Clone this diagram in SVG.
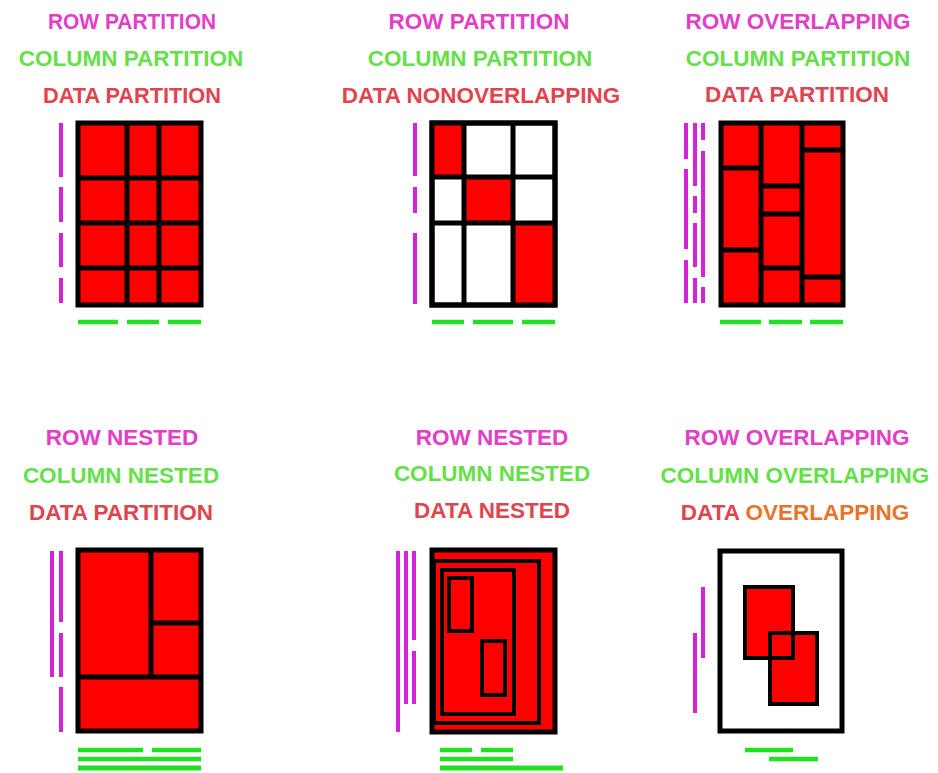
<svg xmlns="http://www.w3.org/2000/svg" width="938" height="773" viewBox="0 0 938 773">
<style>
text{font-family:"Liberation Sans",Arial,sans-serif;font-weight:bold;font-size:22.5px;text-anchor:middle}
.tr{fill:#e23fc4}
.tc{fill:#66e04a}
.td{fill:#e0444e}
.to{fill:#e8742c}
.box{fill:#ff0000;stroke:#000;stroke-width:5}
.wbox{fill:#fff;stroke:#000;stroke-width:5}
.ln{stroke:#000;stroke-width:5;fill:none}
.in{fill:#ff0000;stroke:#000;stroke-width:4}
.nl{fill:none;stroke:#000;stroke-width:4}
.red{fill:#ff0000}
.pk{stroke:#d522d8;stroke-width:4;fill:none}
.gr{stroke:#22e022;stroke-width:4.5;fill:none}
.gr5{stroke:#22e022;stroke-width:5;fill:none}
</style>
<rect width="938" height="773" fill="#fff"/>

<g id="panel-row-partition-column-partition-data-partition">
<text x="132" y="29" class="tr" textLength="168" lengthAdjust="spacingAndGlyphs">ROW PARTITION</text>
<text x="131" y="66" class="tc">COLUMN PARTITION</text>
<text x="132" y="103" class="td" textLength="178" lengthAdjust="spacingAndGlyphs">DATA PARTITION</text>
<rect x="78" y="123" width="123" height="182" class="box"/>
<path class="ln" d="M127 123V305M159 123V305M78 178H201M78 223H201M78 268H201"/>
<path class="pk" d="M61 123V177M61 187V222M61 233V267M61 278V303"/>
<path class="gr" d="M78 322H118M127 322H159M168 322H201"/>
</g>

<g id="panel-row-partition-column-partition-data-nonoverlapping">
<text x="479" y="29" class="tr">ROW PARTITION</text>
<text x="480" y="66" class="tc">COLUMN PARTITION</text>
<text x="481" y="103" class="td">DATA NONOVERLAPPING</text>
<rect x="432" y="123" width="123" height="182" class="wbox"/>
<rect x="432" y="123" width="32" height="54" class="red"/>
<rect x="464" y="177" width="49" height="46" class="red"/>
<rect x="513" y="223" width="42" height="82" class="red"/>
<rect x="432" y="123" width="123" height="182" class="ln"/>
<path class="ln" d="M464 123V305M513 123V305M432 177H555M432 223H555"/>
<path class="pk" d="M415 123V176M415 187V213M415 233V304"/>
<path class="gr" d="M432 322H464M473 322H513M522 322H555"/>
</g>

<g id="panel-row-overlapping-column-partition-data-partition">
<text x="798" y="29" class="tr">ROW OVERLAPPING</text>
<text x="798" y="66" class="tc">COLUMN PARTITION</text>
<text x="797" y="102" class="td">DATA PARTITION</text>
<rect x="721" y="123" width="122" height="182" class="box"/>
<path class="ln" d="M761 123V305M802 123V305M721 168H761M721 250H761M761 186H802M761 214H802M761 268H802M802 150H843M802 277H843"/>
<path class="pk" d="M686 123V159M686 169V249M686 260V303M695 123V186M695 196V213M695 223V267M695 278V303M703 123V140M703 151V277M703 287V303"/>
<path class="gr" d="M720 322H761M769 322H802M810 322H843"/>
</g>

<g id="panel-row-nested-column-nested-data-partition">
<text x="122" y="445" class="tr">ROW NESTED</text>
<text x="121" y="483" class="tc">COLUMN NESTED</text>
<text x="121" y="520" class="td">DATA PARTITION</text>
<rect x="78" y="550" width="123" height="181" class="box"/>
<path class="ln" d="M151 550V677M78 677H201M151 623H201"/>
<path class="pk" d="M52 551V677M61 551V622M61 633V677M61 687V732"/>
<path class="gr" d="M78 750H143M152 750H201M78 759H201"/>
<path class="gr5" d="M78 768H201"/>
</g>

<g id="panel-row-nested-column-nested-data-nested">
<text x="492" y="445" class="tr">ROW NESTED</text>
<text x="492" y="481" class="tc">COLUMN NESTED</text>
<text x="492" y="518" class="td">DATA NESTED</text>
<rect x="432" y="550" width="123" height="182" class="box"/>
<rect x="434" y="561" width="105" height="162" class="nl"/>
<rect x="442" y="570" width="72" height="144" class="nl"/>
<rect x="449" y="578" width="23" height="53" class="nl"/>
<rect x="482" y="641" width="23" height="54" class="nl"/>
<path class="pk" d="M398 551V732M406 551V704M414 551V640M414 651V704"/>
<path class="gr" d="M440 750H472M481 750H513M440 759H513"/>
<path class="gr5" d="M440 768H563"/>
</g>

<g id="panel-row-overlapping-column-overlapping-data-overlapping">
<text x="797" y="445" class="tr">ROW OVERLAPPING</text>
<text x="795" y="483" class="tc">COLUMN OVERLAPPING</text>
<text x="795" y="520" class="td"><tspan>DATA </tspan><tspan class="to">OVERLAPPING</tspan></text>
<rect x="720" y="551" width="122" height="180" class="wbox"/>
<rect x="745" y="587" width="48" height="71" class="red"/>
<rect x="770" y="633" width="47" height="71" class="in"/>
<rect x="745" y="587" width="48" height="71" class="nl"/>
<path class="pk" d="M703 587V658M695 633V713"/>
<path class="gr" d="M745 750H793M769 759H818"/>
</g>

<g id="connectors"></g>
</svg>
